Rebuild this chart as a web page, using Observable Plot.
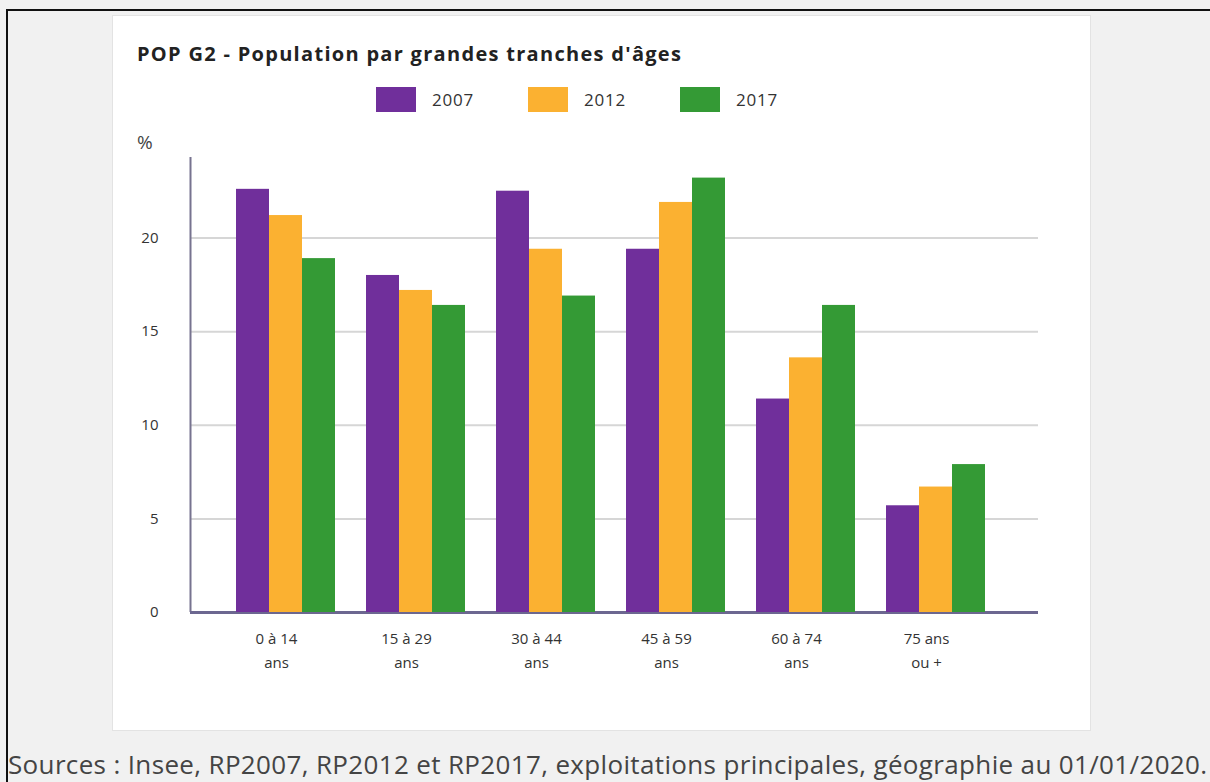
<!DOCTYPE html>
<html>
<head>
<meta charset="utf-8">
<script src="https://cdn.jsdelivr.net/npm/d3@7"></script>
<script src="https://cdn.jsdelivr.net/npm/@observablehq/plot@0.6"></script>
<style>
  html, body { margin: 0; padding: 0; }
  body { width: 1210px; height: 782px; background: #f1f1f1; position: relative; overflow: hidden; font-family: "Open Sans", sans-serif; }
  #frame { position: absolute; left: 6px; top: 9px; width: 1210px; height: 800px; border-top: 2px solid #111; border-left: 2px solid #111; }
  #card { position: absolute; left: 112px; top: 15px; width: 977px; height: 714px; background: #fff; border: 1px solid #e3e3e3; }
  #title { position: absolute; left: 137px; top: 40px; font-weight: 700; font-size: 20px; letter-spacing: 1.3px; color: #222; white-space: nowrap; }
  #legend { position: absolute; left: 376px; top: 86px; height: 26px; display: flex; }
  .item { display: flex; align-items: center; width: 152px; }
  .sw { width: 40px; height: 25px; margin-right: 16px; }
  .lab { font-size: 17px; letter-spacing: 0.8px; color: #333; }
  #unit { position: absolute; left: 137px; top: 129px; font-size: 19px; color: #444; }
  .layer { position: absolute; left: 112px; top: 140px; }
  #footer { position: absolute; left: 8px; top: 746px; font-size: 26px; letter-spacing: 0.35px; color: #444; white-space: nowrap; }
</style>
</head>
<body>
<div id="frame"></div>
<div id="card"></div>
<div id="title">POP G2 - Population par grandes tranches d'âges</div>
<div id="legend"></div>
<div id="unit">%</div>
<div id="bg" class="layer"></div>
<div id="fg" class="layer"></div>
<div id="footer">Sources : Insee, RP2007, RP2012 et RP2017, exploitations principales, géographie au 01/01/2020.</div>
<script>
// ---- data ----
const groups = ["0 à 14 ans", "15 à 29 ans", "30 à 44 ans", "45 à 59 ans", "60 à 74 ans", "75 ans ou +"];
const groupTickLabels = ["0 à 14\nans", "15 à 29\nans", "30 à 44\nans", "45 à 59\nans", "60 à 74\nans", "75 ans\nou +"];
const years = ["2007", "2012", "2017"];
const values2007 = [22.6, 18.0, 22.5, 19.4, 11.4, 5.7];
const values2012 = [21.2, 17.2, 19.4, 21.9, 13.6, 6.7];
const values2017 = [18.9, 16.4, 16.9, 23.2, 16.4, 7.9];
const yTicks = [0, 5, 10, 15, 20];
const gridTicks = [5, 10, 15, 20];
const yMax = 24.3;
const colors = ["#702f9b", "#fbb131", "#349a35"];

// ---- table ----
const seriesValues = [values2007, values2012, values2017];
const table = [];
years.forEach((yr, i) => groups.forEach((g, j) => table.push({group: g, year: yr, value: seriesValues[i][j]})));
const tickLabel = new Map(groups.map((g, i) => [g, groupTickLabels[i]]));

// ---- legend ----
const legend = document.getElementById("legend");
years.forEach((yr, i) => {
  const it = document.createElement("div"); it.className = "item";
  const sw = document.createElement("div"); sw.className = "sw"; sw.style.background = colors[i];
  const lb = document.createElement("div"); lb.className = "lab"; lb.textContent = yr;
  it.appendChild(sw); it.appendChild(lb); legend.appendChild(it);
});

const W = 978, H = 560;
const M = {marginLeft: 78, marginRight: 52, marginTop: 17, marginBottom: 88};
const font = {fontFamily: "Open Sans, sans-serif", fontSize: "14px", color: "#333", background: "transparent", overflow: "visible"};

// ---- background: axes and grid ----
const bg = Plot.plot({
  width: W, height: H, ...M,
  style: font,
  x: {domain: [0, 1], axis: null},
  y: {domain: [0, yMax], axis: null},
  marks: [
    Plot.ruleY(gridTicks, {stroke: "#d6d6d6", strokeWidth: 2}),
    Plot.axisY(yTicks, {tickSize: 0, tickPadding: 32, label: null, fontSize: 15, fill: "#333"}),
    Plot.ruleX([0], {y1: 0, y2: yMax, stroke: "#77738f", strokeWidth: 2}),
    Plot.ruleY([0], {stroke: "#6c6790", strokeWidth: 3})
  ]
});
document.getElementById("bg").appendChild(bg);

// ---- foreground: grouped bars ----
const fg = Plot.plot({
  width: W, height: H, ...M,
  style: font,
  fx: {domain: groups, paddingInner: 0, paddingOuter: 0.2565, align: 0.448, label: null},
  x: {domain: years, axis: null, paddingInner: 0, paddingOuter: 0.45},
  y: {domain: [0, yMax], axis: null},
  color: {domain: years, range: colors},
  marks: [
    Plot.barY(table, {fx: "group", x: "year", y: "value", fill: "year"}),
    Plot.axisFx({anchor: "bottom", tickSize: 0, tickPadding: 14, dx: -9, label: null, tickFormat: d => tickLabel.get(d), lineHeight: 1.6, fontSize: 15, fill: "#333"})
  ]
});
document.getElementById("fg").appendChild(fg);
</script>
</body>
</html>
